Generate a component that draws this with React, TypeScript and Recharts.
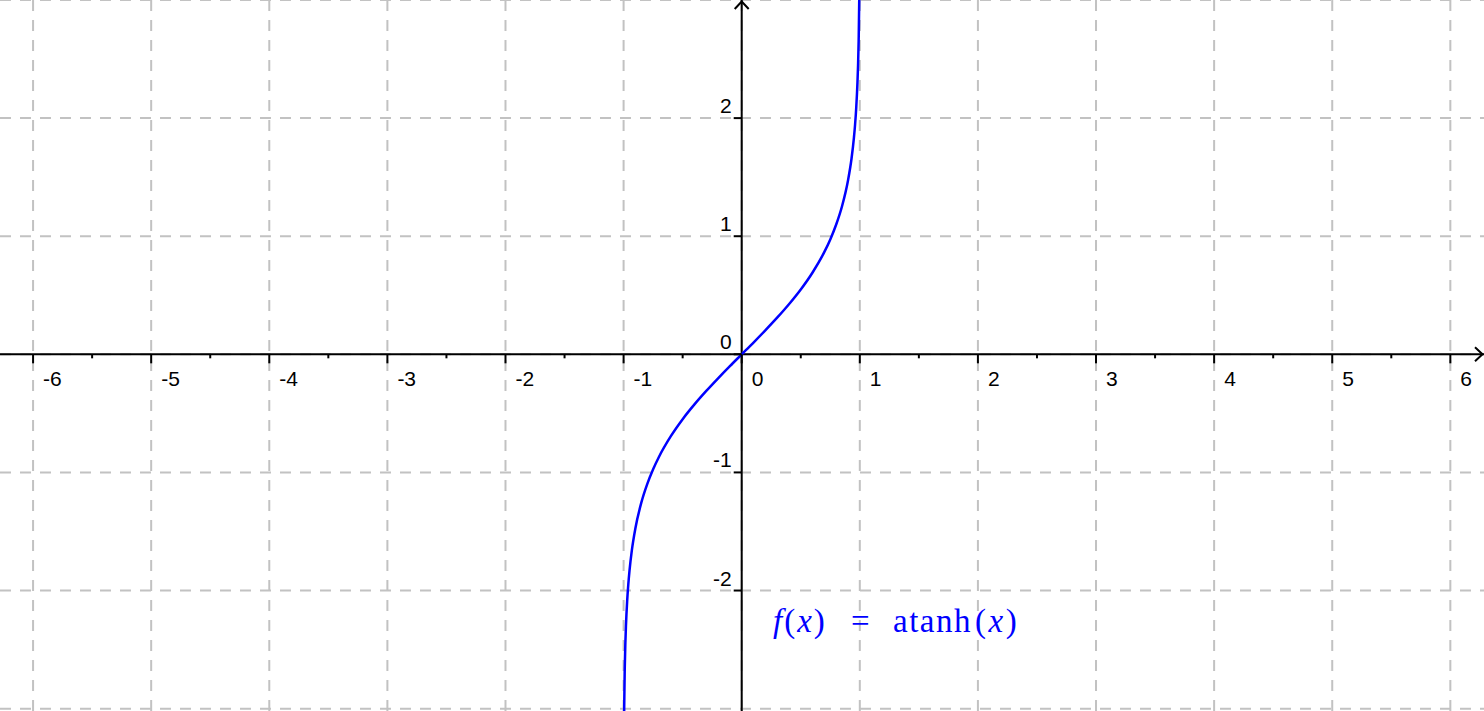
import React from 'react';
import { ComposedChart, Line, XAxis, YAxis, ReferenceLine, ReferenceDot } from 'recharts';

// Visible window of the plot (x and y in function units)
const xDomain = [-6.28, 6.285];
const yDomain = [-3.02, 3.0];

// Points read along the blue curve f(x) = atanh(x)
const curveX = [
  -0.997, -0.995, -0.99, -0.985, -0.98, -0.97, -0.96, -0.95, -0.93, -0.9, -0.85, -0.8, -0.75, -0.7,
  -0.6, -0.5, -0.4, -0.3, -0.2, -0.1, 0, 0.1, 0.2, 0.3, 0.4, 0.5, 0.6, 0.7, 0.75, 0.8, 0.85, 0.9,
  0.93, 0.95, 0.96, 0.97, 0.98, 0.985, 0.99, 0.995, 0.997,
];
const curveY = [
  -3.25, -2.994, -2.647, -2.443, -2.298, -2.092, -1.946, -1.832, -1.658, -1.472, -1.256, -1.099,
  -0.973, -0.867, -0.693, -0.549, -0.424, -0.31, -0.203, -0.1, 0, 0.1, 0.203, 0.31, 0.424, 0.549,
  0.693, 0.867, 0.973, 1.099, 1.256, 1.472, 1.658, 1.832, 1.946, 2.092, 2.298, 2.443, 2.647, 2.994,
  3.25,
];

// Axis tick labels and grid positions
const xTickValues = [-6, -5, -4, -3, -2, -1, 0, 1, 2, 3, 4, 5, 6];
const xTickLabels = ['-6', '-5', '-4', '-3', '-2', '-1', '0', '1', '2', '3', '4', '5', '6'];
const yTickValues = [-2, -1, 0, 1, 2];
const yTickLabels = ['-2', '-1', '0', '1', '2'];
const xMinorTicks = [-5.5, -4.5, -3.5, -2.5, -1.5, -0.5, 0.5, 1.5, 2.5, 3.5, 4.5, 5.5];
const gridX = [-6, -5, -4, -3, -2, -1, 0, 1, 2, 3, 4, 5, 6];
const gridY = [-3, -2, -1, 0, 1, 2, 3];

const data = curveX.map((x, i) => ({ x, y: curveY[i] }));

const GRID = '#c2c2c2';
const BLUE = '#0000ff';
const LABEL_FONT = '"Liberation Sans", Arial, sans-serif';
const LABEL_SIZE = 21;

export default function App() {
  return (
    <div style={{ position: 'absolute', left: 0, top: 0, width: 1484, height: 711, background: '#fff' }}>
      <ComposedChart width={1484} height={711} data={data} margin={{ top: 0, right: 0, bottom: 0, left: 0 }}>
        <XAxis dataKey="x" type="number" domain={xDomain} allowDataOverflow hide />
        <YAxis type="number" domain={yDomain} allowDataOverflow hide />

        {gridY.map((g) => (
          <ReferenceLine
            key={'gy' + g}
            ifOverflow="visible"
            segment={[{ x: xDomain[0], y: g }, { x: xDomain[1], y: g }]}
            stroke={GRID}
            strokeWidth={2}
            strokeDasharray="11 9"
          />
        ))}
        {gridX.map((g) => (
          <ReferenceLine
            key={'gx' + g}
            ifOverflow="visible"
            segment={[{ x: g, y: yDomain[1] }, { x: g, y: yDomain[0] }]}
            stroke={GRID}
            strokeWidth={2}
            strokeDasharray="11 9"
          />
        ))}

        {/* axes */}
        <ReferenceLine
          ifOverflow="visible"
          segment={[{ x: xDomain[0], y: 0 }, { x: xDomain[1], y: 0 }]}
          stroke="#000"
          strokeWidth={2}
        />
        <ReferenceLine
          ifOverflow="visible"
          segment={[{ x: 0, y: yDomain[1] }, { x: 0, y: yDomain[0] }]}
          stroke="#000"
          strokeWidth={2}
        />

        {/* arrows */}
        <ReferenceDot
          x={xDomain[1]}
          y={0}
          ifOverflow="visible"
          shape={(p: any) => (
            <polyline
              points={`${p.cx - 9},${p.cy - 7} ${p.cx - 1.5},${p.cy} ${p.cx - 9},${p.cy + 7}`}
              fill="none"
              stroke="#000"
              strokeWidth={2}
            />
          )}
        />
        <ReferenceDot
          x={0}
          y={yDomain[1]}
          ifOverflow="visible"
          shape={(p: any) => (
            <polyline
              points={`${p.cx - 7},${p.cy + 9} ${p.cx},${p.cy + 1.5} ${p.cx + 7},${p.cy + 9}`}
              fill="none"
              stroke="#000"
              strokeWidth={2}
            />
          )}
        />

        {/* x ticks and labels */}
        {xTickValues.map((v, i) => (
          <ReferenceDot
            key={'xt' + v}
            x={v}
            y={0}
            ifOverflow="visible"
            shape={(p: any) => (
              <g>
                <line x1={p.cx} y1={p.cy} x2={p.cx} y2={p.cy + 9} stroke="#000" strokeWidth={2} />
                <text x={p.cx + 10} y={p.cy + 32} fontFamily={LABEL_FONT} fontSize={LABEL_SIZE} fill="#000">
                  {xTickLabels[i]}
                </text>
              </g>
            )}
          />
        ))}
        {xMinorTicks.map((v) => (
          <ReferenceDot
            key={'xm' + v}
            x={v}
            y={0}
            ifOverflow="visible"
            shape={(p: any) => (
              <line x1={p.cx} y1={p.cy} x2={p.cx} y2={p.cy + 4} stroke="#000" strokeWidth={2} />
            )}
          />
        ))}

        {/* y ticks and labels */}
        {yTickValues.map((v, i) => (
          <ReferenceDot
            key={'yt' + v}
            x={0}
            y={v}
            ifOverflow="visible"
            shape={(p: any) => (
              <g>
                <line x1={p.cx - 8} y1={p.cy} x2={p.cx} y2={p.cy} stroke="#000" strokeWidth={2} />
                <text
                  x={p.cx - 10}
                  y={p.cy - 5}
                  textAnchor="end"
                  fontFamily={LABEL_FONT}
                  fontSize={LABEL_SIZE}
                  fill="#000"
                >
                  {yTickLabels[i]}
                </text>
              </g>
            )}
          />
        ))}

        <Line
          dataKey="y"
          type="monotone"
          stroke={BLUE}
          strokeWidth={2.5}
          dot={false}
          activeDot={false}
          isAnimationActive={false}
        />

        {/* function label */}
        <ReferenceDot
          x={0.265}
          y={-2.35}
          ifOverflow="visible"
          shape={(p: any) => (
            <text
              x={p.cx}
              y={p.cy}
              fill={BLUE}
              fontFamily='"Liberation Serif", "Times New Roman", serif'
              fontSize={33}
            >
              <tspan fontStyle="italic" letterSpacing={2}>f</tspan>
              <tspan letterSpacing={2}>(</tspan>
              <tspan fontStyle="italic" letterSpacing={2}>x</tspan>
              <tspan>)</tspan>
              <tspan x={p.cx + 78}>=</tspan>
              <tspan x={p.cx + 120} letterSpacing={1.5}>atanh</tspan>
              <tspan x={p.cx + 202} letterSpacing={2.5}>(</tspan>
              <tspan fontStyle="italic" letterSpacing={2.5}>x</tspan>
              <tspan>)</tspan>
            </text>
          )}
        />
      </ComposedChart>
    </div>
  );
}
